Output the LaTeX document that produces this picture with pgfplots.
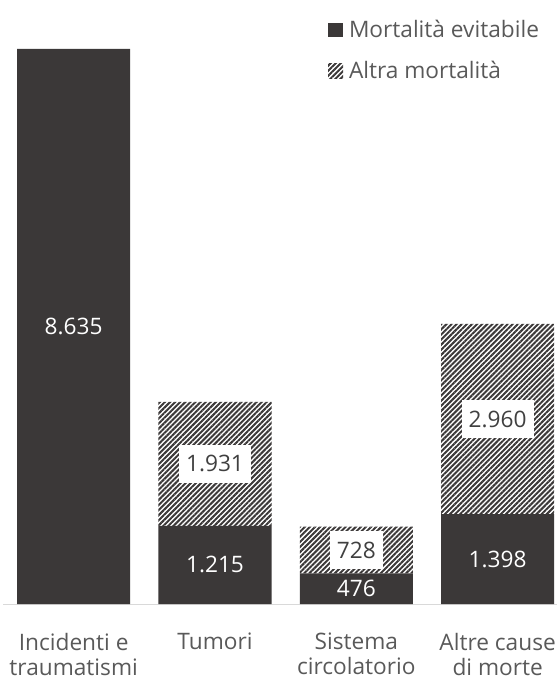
\documentclass[border=0pt]{standalone}
\usepackage{fontspec}
\setmainfont{Open Sans}
\usepackage{pgfplots}
\usepackage{pgfplotstable}
\pgfplotsset{compat=1.18}
\usetikzlibrary{patterns.meta}

\definecolor{barDark}{HTML}{3B3838}
\definecolor{txtGray}{HTML}{595959}
\definecolor{lblGray}{HTML}{404040}
\definecolor{baseGray}{HTML}{D9D9D9}

\newcommand\chartfont{\fontsize{17}{18.75}\selectfont}
\tikzset{hatch/.style={pattern={Lines[angle=45,distance=2.7pt,line width=1.5pt]}, pattern color=barDark}}

% mortalita evitabile / altra mortalita
\pgfplotstableread{
x evit altra
0 8635 0
1 1215 1931
2 476 728
3 1398 2960
}\mortalita

\pgfplotsset{
  common/.style={
    scale only axis, width=415.5pt, height=416.25pt,
    xmin=-0.5, xmax=3.42, ymin=0, ymax=8635,
    clip=false,
  }
}

\begin{document}
\begin{tikzpicture}
\begin{axis}[common,
  ybar stacked, bar width=0.8,
  axis x line*=bottom, hide y axis,
  x axis line style={draw=baseGray, line width=0.75pt},
  xtick={0,1,2,3}, major tick length=0pt,
  xticklabels={{Incidenti e\\traumatismi},{Tumori},{Sistema\\circolatorio},{Altre cause\\di morte}},
  xticklabel style={align=center, font=\chartfont, text=txtGray, inner sep=0pt, anchor=north, yshift=-21.8pt},
  legend style={at={(rel axis cs:0.58664,1.04865)}, anchor=north west, draw=none, fill=none,
    inner sep=0pt, outer sep=0pt, row sep=18.75pt, column sep=4.5pt,
    font=\chartfont, text=txtGray,
    nodes={inner sep=0pt, text height=12pt, text depth=0pt}, cells={anchor=west}},
  legend image code/.code={\path[#1, draw=none] (0pt,-5.6pt) rectangle (11.25pt,5.6pt);},
]
\addplot[fill=barDark, draw=none] table[x=x, y=evit] {\mortalita};
\addplot[hatch, draw=none] table[x=x, y=altra] {\mortalita};
\legend{Mortalità evitabile, Altra mortalità}
\coordinate (bbsw) at (rel axis cs:-0.005415,-0.135135);
\coordinate (bbne) at (rel axis cs:1.001805,1.088288);
\end{axis}

% etichette dei valori
\begin{axis}[common, hide axis,
  point meta=explicit,
  nodes near coords={\pgfmathprintnumber{\pgfplotspointmeta}},
  /pgf/number format/1000 sep={.},
  /pgf/number format/assume math mode=true,
]
\addplot[only marks, mark=none,
  nodes near coords style={anchor=center, text=white, font=\chartfont}]
  table[x=x, y expr=\thisrow{evit}/2, meta=evit] {\mortalita};
\addplot[only marks, mark=none, skip coords between index={0}{1},
  nodes near coords style={anchor=center, fill=white, text=lblGray, font=\chartfont,
    inner xsep=5.25pt, inner ysep=8.1pt, text height=12.2pt, text depth=0pt}]
  table[x=x, y expr=\thisrow{evit}+0.5*\thisrow{altra}, meta=altra] {\mortalita};
\end{axis}
\pgfresetboundingbox
\path[use as bounding box] (bbsw) rectangle (bbne);
\end{tikzpicture}
\end{document}
